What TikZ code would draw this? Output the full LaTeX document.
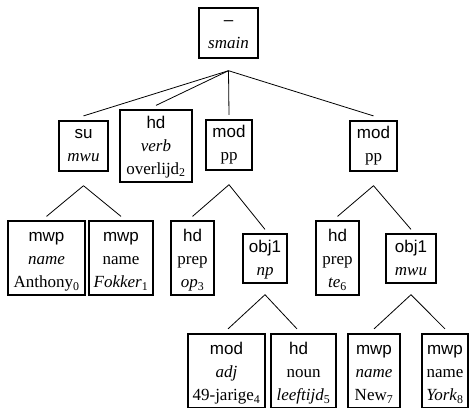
\documentclass[tikz,border=0pt]{standalone}
\usepackage{fontspec}
\setmainfont{Liberation Serif}
\setsansfont{Liberation Sans}
% upright subscript index after a word
\newcommand\ix[1]{\textsubscript{\upshape #1}}
\begin{document}
\begin{tikzpicture}[x=1pt,y=-1pt,
  fs/.style={draw, line width=1.8pt, inner sep=0pt, align=center, anchor=north,
             font=\fontsize{17}{23}\selectfont},
  % text height: top edge to last baseline; text depth: last baseline to bottom edge
  two/.style={text height=41pt, text depth=9pt},
  three/.style={text height=67pt, text depth=7pt},
  edge/.style={line width=0.8pt}]
\useasboundingbox (0,0) rectangle (471,407);

% top node
\node[fs,two,minimum width=59.2pt] (root) at (228.5,6.9) {{\sffamily –}\\\textit{smain}};

% first level
\node[fs,two,minimum width=49.2pt] (su) at (83.5,119.9) {{\sffamily su}\\\textit{mwu}};
\node[fs,text height=64pt,text depth=7.7pt,minimum width=72.2pt] (hdv) at (156,109.4)
  {{\sffamily hd}\\\textit{verb}\\overlijd\ix{2}};
\node[fs,two,minimum width=46.2pt] (modA) at (229,118.9) {{\sffamily mod}\\pp};
\node[fs,two,minimum width=47.2pt] (modB) at (373.5,119.9) {{\sffamily mod}\\pp};

% second level
\node[fs,three,minimum width=77.2pt] (anth) at (46.5,219.9) {{\sffamily mwp}\\\textit{name}\\Anthony\ix{0}};
\node[fs,three,minimum width=64.2pt] (fokk) at (121,219.9) {{\sffamily mwp}\\name\\\textit{Fokker}\ix{1}};
\node[fs,three,minimum width=43.2pt] (hdop) at (192.5,219.9) {{\sffamily hd}\\prep\\\textit{op}\ix{3}};
\node[fs,text height=42pt,text depth=7pt,minimum width=44.2pt] (objA) at (265,232.9) {{\sffamily obj1}\\\textit{np}};
\node[fs,three,minimum width=43.2pt] (hdte) at (337.5,219.9) {{\sffamily hd}\\prep\\\textit{te}\ix{6}};
\node[fs,text height=42pt,text depth=7pt,minimum width=50.2pt] (objB) at (411,232.9) {{\sffamily obj1}\\\textit{mwu}};

% third level
\node[fs,three,minimum width=77.2pt] (adj) at (226.5,332.9) {{\sffamily mod}\\\textit{adj}\\49-jarige\ix{4}};
\node[fs,three,minimum width=65.2pt] (noun) at (303.5,332.9) {{\sffamily hd\hspace*{10pt}}\\noun\\\textit{leeftijd}\ix{5}};
\node[fs,three,minimum width=52.2pt] (new) at (374,332.9) {{\sffamily mwp}\\\textit{name}\\New\ix{7}};
\node[fs,three,minimum width=46.2pt] (york) at (445,332.9) {{\sffamily mwp}\\name\\\textit{York}\ix{8}};

% connectors: from a point below the parent to just above each child
\foreach \c in {su,hdv,modA,modB}
  \draw[edge] ([yshift=-12pt]root.south) -- ([yshift=4pt]\c.north);
\foreach \c in {anth,fokk}
  \draw[edge] ([yshift=-14pt]su.south) -- ([yshift=3.5pt]\c.north);
\foreach \c in {hdop,objA}
  \draw[edge] ([yshift=-14pt]modA.south) -- ([yshift=3.5pt]\c.north);
\foreach \c in {hdte,objB}
  \draw[edge] ([yshift=-14pt]modB.south) -- ([yshift=3.5pt]\c.north);
\draw[edge] ([yshift=-11pt]objA.south) -- ([xshift=1.5pt,yshift=4pt]adj.north);
\draw[edge] ([yshift=-11pt]objA.south) -- ([xshift=-6.5pt,yshift=4pt]noun.north);
\foreach \c in {new,york}
  \draw[edge] ([yshift=-11pt]objB.south) -- ([yshift=4pt]\c.north);
\end{tikzpicture}
\end{document}
